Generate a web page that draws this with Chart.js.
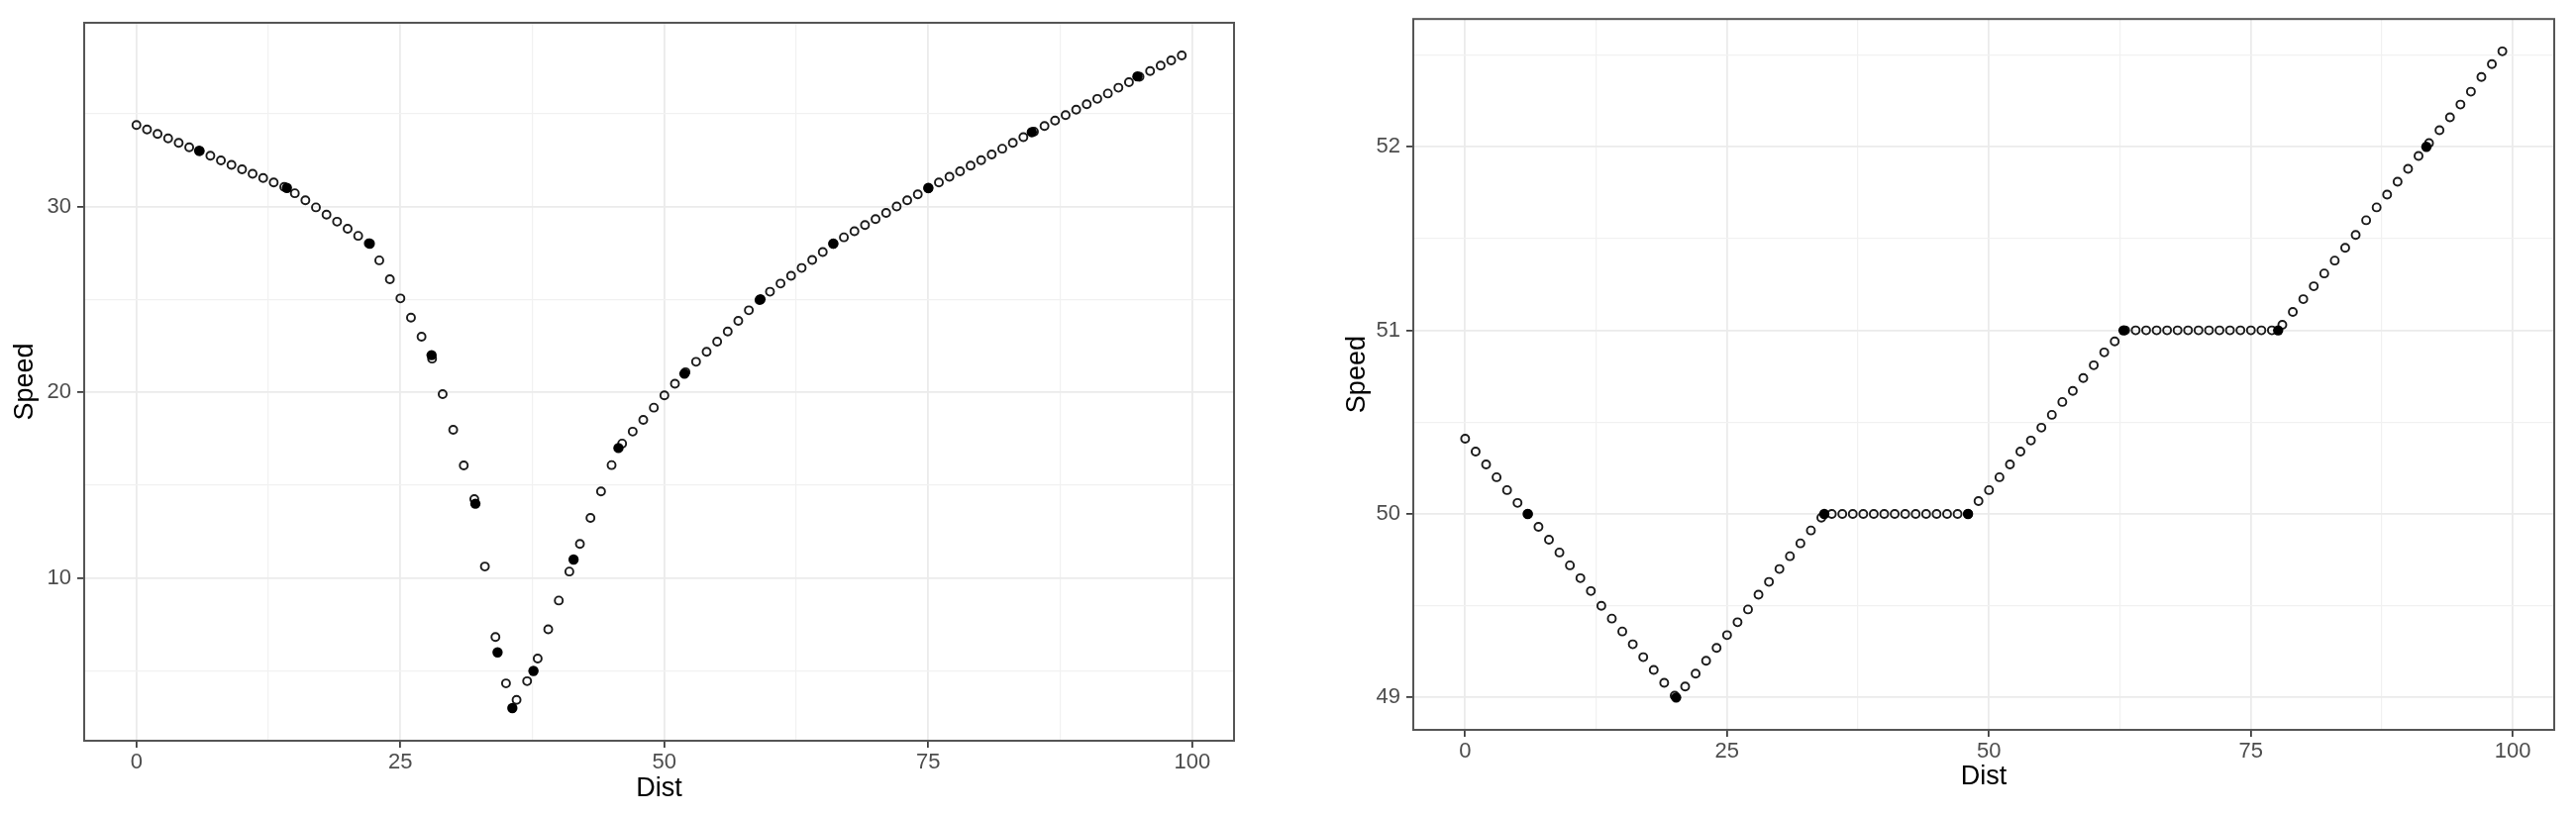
<!DOCTYPE html>
<html>
<head>
<meta charset="utf-8">
<script src="https://cdn.jsdelivr.net/npm/chart.js@4"></script>
<style>
  body { margin: 0; background: #fff; }
  canvas { position: absolute; top: 0; }
  #left { left: 0; }
  #right { left: 1345px; }
</style>
</head>
<body>
<canvas id="left" width="1290" height="825"></canvas>
<canvas id="right" width="1256" height="825"></canvas>
<script>
// distance grid shared by both panels
const dist = [0,1,2,3,4,5,6,7,8,9,10,11,12,13,14,15,16,17,18,19,20,21,22,23,24,25,26,27,28,29,
  30,31,32,33,34,35,36,37,38,39,40,41,42,43,44,45,46,47,48,49,50,51,52,53,54,55,56,57,58,59,
  60,61,62,63,64,65,66,67,68,69,70,71,72,73,74,75,76,77,78,79,80,81,82,83,84,85,86,87,88,89,
  90,91,92,93,94,95,96,97,98,99];

// left panel: speed at every dist (open circles) and observed points (filled)
const speedLeft = [34.38,34.14,33.90,33.66,33.42,33.18,32.98,32.73,32.48,32.24,
  32.00,31.76,31.53,31.29,31.05,30.71,30.33,29.95,29.56,29.18,
  28.80,28.42,28.02,27.10,26.08,25.05,24.02,22.99,21.81,19.90,
  17.98,16.06,14.25,10.62,6.83,4.33,3.44,4.45,5.67,7.24,
  8.79,10.35,11.84,13.24,14.66,16.08,17.24,17.88,18.51,19.17,
  19.83,20.46,21.08,21.64,22.18,22.72,23.27,23.84,24.41,24.96,
  25.41,25.85,26.27,26.69,27.12,27.55,27.99,28.34,28.67,29.00,
  29.32,29.65,30.00,30.33,30.65,30.97,31.29,31.60,31.89,32.20,
  32.49,32.80,33.11,33.42,33.73,34.03,34.33,34.62,34.92,35.21,
  35.50,35.79,36.08,36.39,36.69,36.98,37.29,37.58,37.86,38.13];
const obsDistLeft = [5.94,14.25,22.1,27.95,32.1,34.2,35.6,37.6,41.4,45.65,51.9,59.1,66.0,75.0,84.8,94.8];
const obsSpeedLeft = [33,31,28,22,14,6,3,5,11,17,21,25,28,31,34,37];

// right panel
const speedRight = [50.41,50.34,50.27,50.20,50.13,50.06,50.00,49.93,49.86,49.79,
  49.72,49.65,49.58,49.50,49.43,49.36,49.29,49.22,49.15,49.08,
  49.01,49.06,49.13,49.20,49.27,49.34,49.41,49.48,49.56,49.63,
  49.70,49.77,49.84,49.91,49.98,50.00,50.00,50.00,50.00,50.00,
  50.00,50.00,50.00,50.00,50.00,50.00,50.00,50.00,50.00,50.07,
  50.13,50.20,50.27,50.34,50.40,50.47,50.54,50.61,50.67,50.74,
  50.81,50.88,50.94,51.00,51.00,51.00,51.00,51.00,51.00,51.00,
  51.00,51.00,51.00,51.00,51.00,51.00,51.00,51.00,51.03,51.10,
  51.17,51.24,51.31,51.38,51.45,51.52,51.60,51.67,51.74,51.81,
  51.88,51.95,52.02,52.09,52.16,52.23,52.30,52.38,52.45,52.52];
const obsDistRight = [5.97,20.14,34.28,48.0,62.84,77.6,91.75];
const obsSpeedRight = [50,49,50,50,51,51,52];

// tick labels
const xTicks = [0, 25, 50, 75, 100];
const xMinor = [12.5, 37.5, 62.5, 87.5];
const leftYTicks = [10, 20, 30];
const leftYMinor = [5, 15, 25, 35];
const rightYTicks = [49, 50, 51, 52];
const rightYMinor = [49.5, 50.5, 51.5, 52.5];

const FONT = '"Liberation Sans", Arial, Helvetica, sans-serif';

// ggplot style 5% expansion
function expand(vals) {
  const lo = Math.min(...vals), hi = Math.max(...vals);
  const pad = (hi - lo) * 0.05;
  return [lo - pad, hi + pad];
}

const panelBorder = {
  id: 'panelBorder',
  afterDraw(chart) {
    const a = chart.chartArea, ctx = chart.ctx;
    ctx.save();
    ctx.strokeStyle = '#555555';
    ctx.lineWidth = 2;
    ctx.strokeRect(a.left, a.top, a.right - a.left, a.bottom - a.top);
    ctx.restore();
  }
};

function axis(major, minor, range, size, isX, titlePad) {
  const isMajor = (c) => c.tick && major.includes(c.tick.value);
  return {
    type: 'linear',
    min: range[0],
    max: range[1],
    afterBuildTicks: (s) => {
      s.ticks = major.concat(minor).sort((a, b) => a - b).map(v => ({ value: v }));
    },
    afterFit: (s) => { if (isX) s.height = size; else s.width = size; },
    ticks: {
      autoSkip: false,
      maxRotation: 0,
      padding: isX ? 2 : 6,
      color: '#4d4d4d',
      font: { family: FONT, size: 22 },
      callback: (v) => major.includes(v) ? String(v) : ''
    },
    grid: {
      color: (c) => isMajor(c) ? '#ebebeb' : '#f1f1f1',
      lineWidth: (c) => isMajor(c) ? 1.8 : 1.2,
      tickColor: (c) => isMajor(c) ? '#333333' : 'rgba(0,0,0,0)',
      tickLength: 7,
      tickWidth: 1.7
    },
    border: { display: false },
    title: {
      display: true,
      text: isX ? 'Dist' : 'Speed',
      color: '#000',
      font: { family: FONT, size: 27 },
      padding: titlePad
    }
  };
}

function makePanel(id, curve, obsX, obsY, yMajor, yMinor, geo) {
  const xRange = expand(dist.concat(obsX));
  const yRange = expand(curve.concat(obsY));
  new Chart(document.getElementById(id), {
    type: 'scatter',
    data: {
      datasets: [
        {
          data: obsX.map((x, i) => ({ x: x, y: obsY[i] })),
          pointRadius: 5.2,
          pointBorderWidth: 0,
          pointBackgroundColor: '#000'
        },
        {
          data: dist.map((x, i) => ({ x: x, y: curve[i] })),
          pointRadius: 4,
          pointBorderWidth: 1.9,
          pointBorderColor: '#1a1a1a',
          pointBackgroundColor: 'rgba(0,0,0,0)'
        }
      ]
    },
    options: {
      responsive: false,
      animation: false,
      layout: { padding: { top: geo.top, right: geo.right, left: 0, bottom: 0 } },
      plugins: { legend: { display: false }, tooltip: { enabled: false } },
      scales: {
        x: axis(xTicks, xMinor, xRange, geo.xHeight, true, { top: 0, bottom: geo.titleBottom }),
        y: axis(yMajor, yMinor, yRange, geo.yWidth, false, { top: 9, bottom: 0 })
      }
    },
    plugins: [panelBorder]
  });
}

makePanel('left', speedLeft, obsDistLeft, obsSpeedLeft, leftYTicks, leftYMinor,
  { top: 23, right: 44, xHeight: 77, yWidth: 85, titleBottom: 12 });
makePanel('right', speedRight, obsDistRight, obsSpeedRight, rightYTicks, rightYMinor,
  { top: 17, right: 22, xHeight: 88, yWidth: 82, titleBottom: 24 });
</script>
</body>
</html>
